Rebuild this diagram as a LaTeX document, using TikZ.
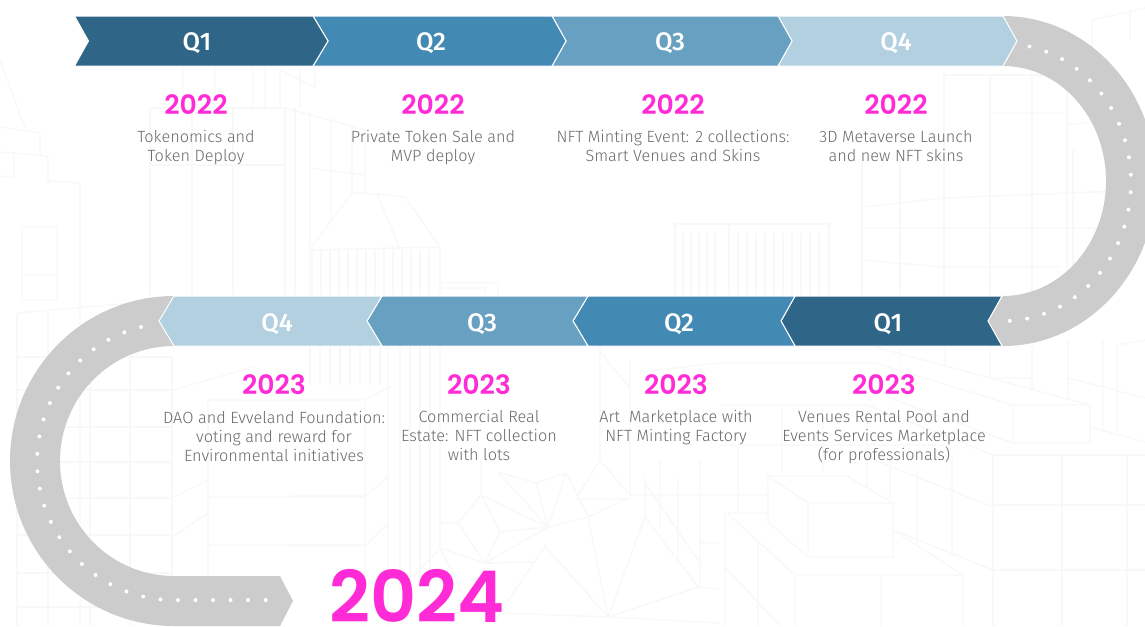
\documentclass[tikz,border=0pt]{standalone}
\usepackage{fontspec}
\setmainfont{Fira Sans Light}
\newfontfamily\yearfont{Poppins SemiBold}
\newfontfamily\quarterfont{Fira Sans Medium}
\definecolor{roadgray}{HTML}{CCCCCC}
\definecolor{qone}{HTML}{2F6688}
\definecolor{qtwo}{HTML}{4289B4}
\definecolor{qthree}{HTML}{68A0C2}
\definecolor{qfour}{HTML}{B3D0E1}
\definecolor{yearpink}{HTML}{FF2BD6}
\definecolor{bodygray}{HTML}{696969}
\definecolor{cityline}{HTML}{F8F8F8}
\tikzset{
  city/.style={draw=cityline,line width=1.1pt},
  road/.style={fill=roadgray,draw=none},
  roaddots/.style={draw=white,line width=3pt,line cap=round,dash pattern=on 0pt off 13.15pt},
  chevron/.style={draw=white,line width=0.75pt},
  qlabel/.style={inner sep=0.75pt,text=white,font=\quarterfont\fontsize{19}{22}\selectfont},
  yearlabel/.style={inner sep=0.75pt,text=yearpink,font=\yearfont\fontsize{20}{22}\selectfont},
  bodylabel/.style={inner sep=0.75pt,align=center,text=bodygray,font=\fontsize{12.2}{14.25}\selectfont},
}
\begin{document}
\begin{tikzpicture}[x=0.75pt,y=0.75pt,yscale=-1,xscale=1]
\clip (0,0) rectangle (1145,626);
% city in the background
\draw [city] (0,60) -- (25,128) (0,127) -- (40,133) -- (40,155) -- (48,157) -- (48,181) -- (80,183) -- (80,626) ;
\draw [city] (0,152) -- (40,155) (14,152) -- (14,178) -- (0,176) (22,227) rectangle (57,300) (22,275) -- (57,275) ;
\draw [city] (150,108) -- (285,108) (150,165) -- (285,165) (150,108) -- (150,295) (192,108) -- (192,295) (233,108) -- (233,295) (285,108) -- (285,295) (295,108) -- (295,295) ;
\draw [city] (183,68) -- (183,108) (215,68) -- (215,108) (253,68) -- (253,108) (265,68) -- (265,108) (280,68) -- (280,108) (300,68) -- (300,108) (315,68) -- (315,88) (280,70) -- (315,88) ;
\draw [city] (285,108) -- (365,130) -- (365,193) -- (352,193) (310,112) -- (310,295) (331,118) -- (331,220) (352,125) -- (352,193) (310,168) -- (365,175) ;
\draw [city] (352,193) -- (310,249) (352,193) -- (377,194) -- (400,249) (377,194) -- (405,197) -- (440,247) (312,250) -- (440,247) -- (440,295) (440,283) -- (498,283) -- (498,295) (441,288) -- (485,288) -- (485,295) ;
\foreach \xa in {312,321,...,431} \draw [city] (\xa,250) -- (\xa,295) ;
\draw [city] (675,295) -- (675,224) -- (829,224) -- (829,295) (729,224) -- (729,295) ;
\foreach \xa in {683,691,...,721} \draw [city] (\xa,233) -- (\xa,295) ;
\foreach \xa in {738,747,...,821} \draw [city] (\xa,233) -- (\xa,295) ;
\foreach \xa in {862,900,944,990,1032} \draw [city] (\xa,160) -- (\xa,295) ;
\draw [city] (990,75) -- (990,160) (1032,75) -- (1032,160) (944,160) -- (944,75) -- (1067,75) (1067,75) -- (1067,295) (1073,150) -- (1073,295) ;
\draw [city] (862,207) -- (944,198) -- (1145,190) (862,228) -- (1145,228) (862,260) -- (944,267) -- (1060,267) (990,113) -- (1067,113) (1067,125) -- (1105,120) (1092,20) -- (1145,8) (1092,20) -- (1092,50) (1130,10) -- (1130,40) ;
\draw [city] (290,496) -- (365,496) -- (388,477) (365,400) -- (365,626) (290,546) -- (365,546) -- (388,523) (388,346) -- (388,626) (365,399) -- (390,387) ;
\foreach \xa in {400,410,420,430} \draw [city] (\xa,346) -- (\xa,590) ;
\foreach \xa in {310,320,...,380} \draw [city] (\xa,346) -- (\xa,385) ;
\draw [city] (440,346) -- (440,548) (440,523) -- (458,523) (481,460) -- (481,495) (600,346) -- (600,460) (600,352) -- (630,388) (630,360) -- (630,460) (640,372) -- (720,363) ;
\draw [city] (481,495) -- (458,523) -- (485,563) -- (500,532) -- (481,495) -- (548,527) -- (500,532) (548,527) -- (485,563) -- (440,548) -- (413,577) (440,548) -- (470,607) (485,563) -- (532,562) ;
\draw [city] (493,623) -- (545,546) -- (608,617) (498,472) -- (536,483) -- (566,473) -- (548,527) -- (498,472) (536,483) -- (548,527) (566,473) -- (588,517) (548,527) -- (588,517) -- (628,498) ;
\draw [city] (577,499) -- (630,499) (600,460) -- (577,497) (600,460) -- (628,493) (588,517) -- (608,617) -- (645,517) -- (698,587) -- (608,617) (698,587) -- (720,589) ;
\draw [city] (700,460) -- (700,587) (645,483) -- (700,563) (630,495) -- (700,495) (630,460) -- (630,495) (645,477) -- (645,517) (660,460) -- (660,527) (678,477) -- (678,563) (700,543) -- (720,543) (700,495) -- (720,495) (608,617) -- (720,623) (608,617) -- (503,613) ;
\draw [city] (768,476) -- (847,476) -- (893,503) -- (808,503) -- cycle (808,503) -- (808,557) -- (893,557) -- (893,503) (768,476) -- (768,522) -- (808,557) ;
\draw [city] (727,513) -- (795,575) -- (963,575) -- (963,626) (727,513) -- (767,513) (795,575) -- (795,626) (881,575) -- (881,626) (725,513) -- (725,626) (758,543) -- (758,626) (725,567) -- (780,626) (893,530) -- (963,575) ;
\draw [city] (993,455) -- (993,626) (1062,455) -- (1062,626) (1127,455) -- (1127,626) (993,455) -- (1145,455) (993,505) -- (1145,505) (993,570) -- (1145,570) ;
\draw [city] (720,363) -- (875,363) -- (1013,405) (875,347) -- (1090,405) (1013,405) -- (1090,405) -- (1090,443) -- (1013,443) -- cycle (887,397) -- (1013,443) (1090,427) -- (1145,442) (720,405) -- (867,405) -- (993,455) (720,445) -- (950,445) ;
\draw [city] (867,405) -- (867,487) (823,407) -- (823,473) (782,407) -- (782,473) (738,447) -- (738,512) (720,495) -- (767,495) (890,453) -- (890,497) (917,470) -- (917,543) (952,453) -- (952,557) (867,457) -- (993,507) (893,530) -- (993,570) ;
\draw [city] (900,348) -- (900,362) (945,348) -- (945,367) (990,348) -- (990,378) (1032,345) -- (1032,390) (990,378) -- (1032,378) (1068,340) -- (1068,400) (1068,378) -- (1145,398) (1103,340) -- (1103,428) (1117,345) -- (1117,433) (1117,345) -- (1145,340) ;
\foreach \xa in {17,48} \draw [city] (\xa,313) -- (\xa,626) ;
\foreach \xa in {90,130,172} \draw [city] (\xa,357) -- (\xa,626) ;
\foreach \ya in {357,390,427,462,498,535,573,607} \draw [city] (17,\ya) -- (172,\ya) ;
\draw [city] (17,313) -- (167,300) (172,390) -- (253,367) (172,498) -- (208,480) (172,537) -- (208,513) (208,400) -- (365,400) (208,497) -- (365,497) (208,545) -- (365,545) (208,400) -- (208,626) ;
% road
\draw [road] (1003,16) arc [start angle=-90,end angle=90,x radius=153,y radius=165] -- (988,321) -- (1003,296) arc [start angle=90,end angle=-90,x radius=103,y radius=115] -- (1017,41) -- cycle ;
\draw [road] (174,296) arc [start angle=270,end angle=90,x radius=164,y radius=165] -- (280,626) -- (293,601) -- (280,576) -- (174,576) arc [start angle=90,end angle=270,x radius=114,y radius=115] -- cycle ;
\draw [roaddots] (1029.5,46.5) arc [start angle=-78.05,end angle=90,x radius=128,y radius=138.8] ;
\draw [roaddots] (141,327) arc [start angle=256,end angle=90,x radius=137,y radius=138.6] -- (270,600) ;
% top row
\draw [chevron,fill=qfour] (778,16) -- (1003,16) -- (1017,41) -- (1003,66) -- (778,66) -- (792,41) -- cycle ;
\draw [chevron,fill=qthree] (552,16) -- (778,16) -- (792,41) -- (778,66) -- (552,66) -- (566,41) -- cycle ;
\draw [chevron,fill=qtwo] (313,16) -- (552,16) -- (566,41) -- (552,66) -- (313,66) -- (328,41) -- cycle ;
\draw [chevron,fill=qone] (74.5,16) -- (313,16) -- (328,41) -- (313,66) -- (74.5,66) -- (88.5,41) -- cycle ;
% bottom row
\draw [chevron,fill=qone] (795,296) -- (1002,296) -- (988,321) -- (1002,346) -- (795,346) -- (781,321) -- cycle ;
\draw [chevron,fill=qtwo] (588,296) -- (795,296) -- (781,321) -- (795,346) -- (588,346) -- (573,321) -- cycle ;
\draw [chevron,fill=qthree] (382,296) -- (588,296) -- (573,321) -- (588,346) -- (382,346) -- (367,321) -- cycle ;
\draw [chevron,fill=qfour] (174,296) -- (382,296) -- (367,321) -- (382,346) -- (174,346) -- (159,321) -- cycle ;
% labels
\node [qlabel] (topqa) at (197,43) {Q1};
\node [qlabel] (topqb) at (431,43) {Q2};
\node [qlabel] (topqc) at (670,43) {Q3};
\node [qlabel] (topqd) at (896,43) {Q4};
\node [qlabel] (lowqd) at (277,324) {Q4};
\node [qlabel] (lowqc) at (482,324) {Q3};
\node [qlabel] (lowqb) at (679,324) {Q2};
\node [qlabel] (lowqa) at (888,324) {Q1};
\node [yearlabel] (yeara) at (196,105) {2022};
\node [yearlabel] (yearb) at (433,105) {2022};
\node [yearlabel] (yearc) at (673,105) {2022};
\node [yearlabel] (yeard) at (896,105) {2022};
\node [yearlabel] (yeare) at (274,385) {2023};
\node [yearlabel] (yearf) at (479,385) {2023};
\node [yearlabel] (yearg) at (676,385) {2023};
\node [yearlabel] (yearh) at (884,385) {2023};
\node [bodylabel] (texta) at (196,148) {Tokenomics and\\Token Deploy};
\node [bodylabel] (textb) at (433,148) {Private Token Sale and\\MVP deploy};
\node [bodylabel] (textc) at (673,146) {NFT Minting Event: 2 collections:\\Smart Venues and Skins};
\node [bodylabel] (textd) at (896,146) {3D Metaverse Launch\\and new NFT skins};
\node [bodylabel] (texte) at (274,436) {DAO and Evveland Foundation:\\voting and reward for\\Environmental initiatives};
\node [bodylabel] (textf) at (479,435) {Commercial Real\\Estate: NFT collection\\with lots};
\node [bodylabel] (textg) at (676,428) {Art\ \ Marketplace with\\NFT Minting Factory};
\node [bodylabel] (texth) at (884,437) {Venues Rental Pool and\\Events Services Marketplace\\(for professionals)};
\node [anchor=base,inner sep=0.75pt,text=yearpink,font=\yearfont\fontsize{53.5}{58}\selectfont] (yearnext) at (417,622) {2024};
\end{tikzpicture}
\end{document}
